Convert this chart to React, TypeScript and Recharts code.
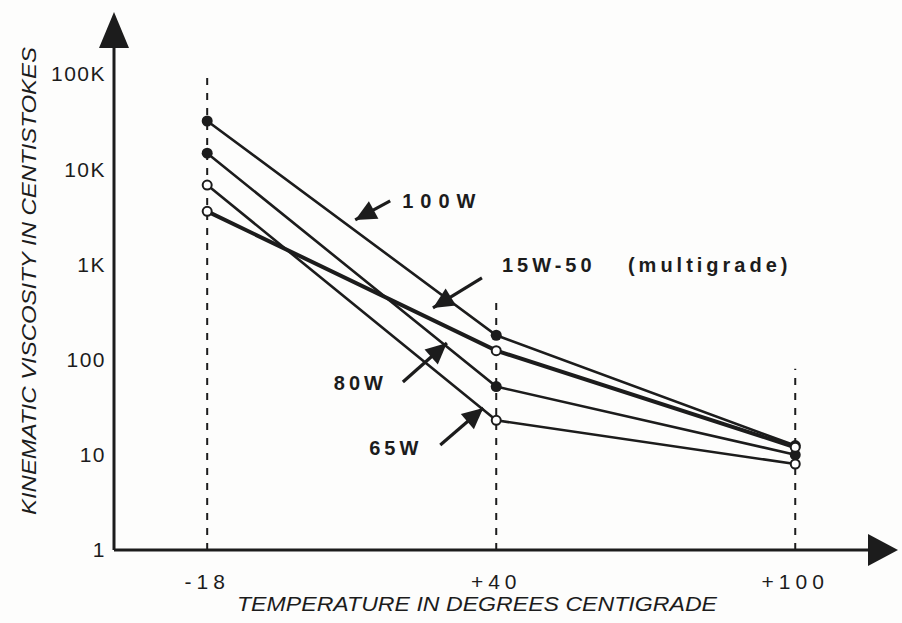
import React from "react";
import {
  LineChart,
  Line,
  XAxis,
  YAxis,
  ReferenceLine,
  ReferenceDot,
} from "recharts";

// temperatures in degrees C and viscosity readings (centistokes)
const temperatures = [-18, 40, 100];
const visc100W = [32000, 180, 12.5];
const visc80W = [14700, 52, 10];
const visc65W = [6800, 23, 8];
const visc15W50 = [3600, 124, 12];

const yTicks = [1, 10, 100, 1000, 10000, 100000];
const yTickLabels = ["1", "10", "100", "1K", "10K", "100K"];
const xTickLabels = ["-18", "+40", "+100"];

// tops of the dashed guide lines, in centistokes
const guideTops = [100000, 420, 80];

// annotation arrow tips, in data coordinates
const noteNames = ["100W", "15W-50", "80W", "65W"];
const noteTemps = [11.7, 27.3, 30.1, 37.4];
const noteVisc = [2925, 348, 149, 31];

const data = temperatures.map((t, i) => ({
  t,
  w100: visc100W[i],
  w80: visc80W[i],
  w65: visc65W[i],
  w1550: visc15W50[i],
}));

const INK = "#1c1c1c";
const FONT = "Liberation Sans, Arial, sans-serif";
const X_MIN = -36.7;
const X_MAX = 114.6;
const Y_MAX = 187000;

// pixel offsets for each note: arrow tail, text anchor
const noteLayout: Record<string, { tail: [number, number]; text: [number, number]; anchor: "start" | "end"; spacing: number }> = {
  "100W": { tail: [35, -19], text: [47, -12], anchor: "start", spacing: 7 },
  "15W-50": { tail: [49, -30], text: [69, -36], anchor: "start", spacing: 4 },
  "80W": { tail: [-44, 39], text: [-60, 47], anchor: "end", spacing: 4 },
  "65W": { tail: [-43, 37], text: [-61, 47], anchor: "end", spacing: 4 },
};

const arrowPath = (x1: number, y1: number, x2: number, y2: number) => {
  // head at (x2, y2)
  const dx = x2 - x1;
  const dy = y2 - y1;
  const len = Math.sqrt(dx * dx + dy * dy);
  const ux = dx / len;
  const uy = dy / len;
  const hl = 21;
  const hw = 10;
  const bx = x2 - ux * hl;
  const by = y2 - uy * hl;
  return `M${x2},${y2} L${bx - uy * hw},${by + ux * hw} L${bx + uy * hw},${by - ux * hw} Z`;
};

const NoteShape = (name: string) => (props: any) => {
  const { cx, cy } = props;
  const lay = noteLayout[name];
  const tx = cx + lay.tail[0];
  const ty = cy + lay.tail[1];
  return (
    <g>
      <line x1={tx} y1={ty} x2={cx} y2={cy} stroke={INK} strokeWidth={3.2} />
      <path d={arrowPath(tx, ty, cx, cy)} fill={INK} />
      <text
        x={cx + lay.text[0]}
        y={cy + lay.text[1]}
        textAnchor={lay.anchor}
        fontFamily={FONT}
        fontWeight="bold"
        fontSize={20}
        letterSpacing={lay.spacing}
        fill={INK}
      >
        {name}
      </text>
      {name === "15W-50" && (
        <text
          x={cx + 195}
          y={cy + lay.text[1]}
          fontFamily={FONT}
          fontWeight="bold"
          fontSize={20}
          letterSpacing={4}
          fill={INK}
        >
          (multigrade)
        </text>
      )}
    </g>
  );
};

const filledDot = (p: any) => (
  <circle key={`f-${p.dataKey}-${p.index}`} cx={p.cx} cy={p.cy} r={5.5} fill={INK} />
);
const openDot = (p: any) => (
  <circle key={`o-${p.dataKey}-${p.index}`} cx={p.cx} cy={p.cy} r={4.5} fill="#fff" stroke={INK} strokeWidth={2} />
);

const yArrow = (p: any) => (
  <path d={`M${p.cx - 15},${p.cy} L${p.cx + 15},${p.cy} L${p.cx},${p.cy - 36} Z`} fill={INK} />
);
const xArrow = (p: any) => (
  <path d={`M${p.cx},${p.cy - 16} L${p.cx},${p.cy + 16} L${p.cx + 30},${p.cy} Z`} fill={INK} />
);

const tickFont = {
  fontFamily: FONT,
  fontSize: 21,
  fill: INK,
};

export default function App() {
  return (
    <div style={{ position: "absolute", left: 0, top: 0, background: "#fdfdfc" }}>
      <LineChart
        width={902}
        height={623}
        data={data}
        margin={{ top: 48, right: 34, bottom: 33, left: 0 }}
      >
        <XAxis
          dataKey="t"
          type="number"
          domain={[X_MIN, X_MAX]}
          allowDataOverflow
          ticks={temperatures}
          tickFormatter={(v: number) => xTickLabels[temperatures.indexOf(v)] ?? ""}
          tickLine={false}
          tickMargin={18}
          height={40}
          axisLine={{ stroke: INK, strokeWidth: 3 }}
          tick={{ ...tickFont, letterSpacing: 5 }}
          label={(props: any) => {
            const vb = props.viewBox;
            return (
              <text
                x={vb.x + vb.width / 2 - 14}
                y={611}
                textAnchor="middle"
                fontFamily={FONT}
                fontStyle="italic"
                fontSize={21}
                textLength={480}
                lengthAdjust="spacingAndGlyphs"
                fill={INK}
              >
                TEMPERATURE IN DEGREES CENTIGRADE
              </text>
            );
          }}
        />
        <YAxis
          scale="log"
          domain={[1, Y_MAX]}
          allowDataOverflow
          ticks={yTicks}
          tickFormatter={(v: number) => yTickLabels[yTicks.indexOf(v)] ?? ""}
          width={114}
          tickLine={false}
          axisLine={{ stroke: INK, strokeWidth: 3 }}
          tick={{ ...tickFont, letterSpacing: 1.5 }}
          label={(props: any) => {
            const vb = props.viewBox;
            const cy = vb.y + vb.height / 2 - 18;
            return (
              <text
                x={28}
                y={cy}
                transform={`rotate(-90 28 ${cy})`}
                textAnchor="middle"
                dominantBaseline="central"
                fontFamily={FONT}
                fontStyle="italic"
                fontSize={21}
                textLength={468}
                lengthAdjust="spacingAndGlyphs"
                fill={INK}
              >
                KINEMATIC VISCOSITY IN CENTISTOKES
              </text>
            );
          }}
        />
        {temperatures.map((t, i) => (
          <ReferenceLine
            key={`g${t}`}
            segment={[
              { x: t, y: 1 },
              { x: t, y: guideTops[i] },
            ]}
            stroke={INK}
            strokeWidth={2}
            strokeDasharray="7 8"
            ifOverflow="visible"
          />
        ))}
        <Line dataKey="w100" stroke={INK} strokeWidth={2.6} dot={filledDot} isAnimationActive={false} />
        <Line dataKey="w80" stroke={INK} strokeWidth={2.6} dot={filledDot} isAnimationActive={false} />
        <Line dataKey="w65" stroke={INK} strokeWidth={2.6} dot={openDot} isAnimationActive={false} />
        <Line dataKey="w1550" stroke={INK} strokeWidth={4} dot={openDot} isAnimationActive={false} />
        {noteNames.map((n, i) => (
          <ReferenceDot
            key={n}
            x={noteTemps[i]}
            y={noteVisc[i]}
            r={0}
            ifOverflow="visible"
            shape={NoteShape(n)}
          />
        ))}
        <ReferenceDot x={X_MIN} y={Y_MAX} r={0} ifOverflow="visible" shape={yArrow} />
        <ReferenceDot x={X_MAX} y={1} r={0} ifOverflow="visible" shape={xArrow} />
      </LineChart>
    </div>
  );
}
